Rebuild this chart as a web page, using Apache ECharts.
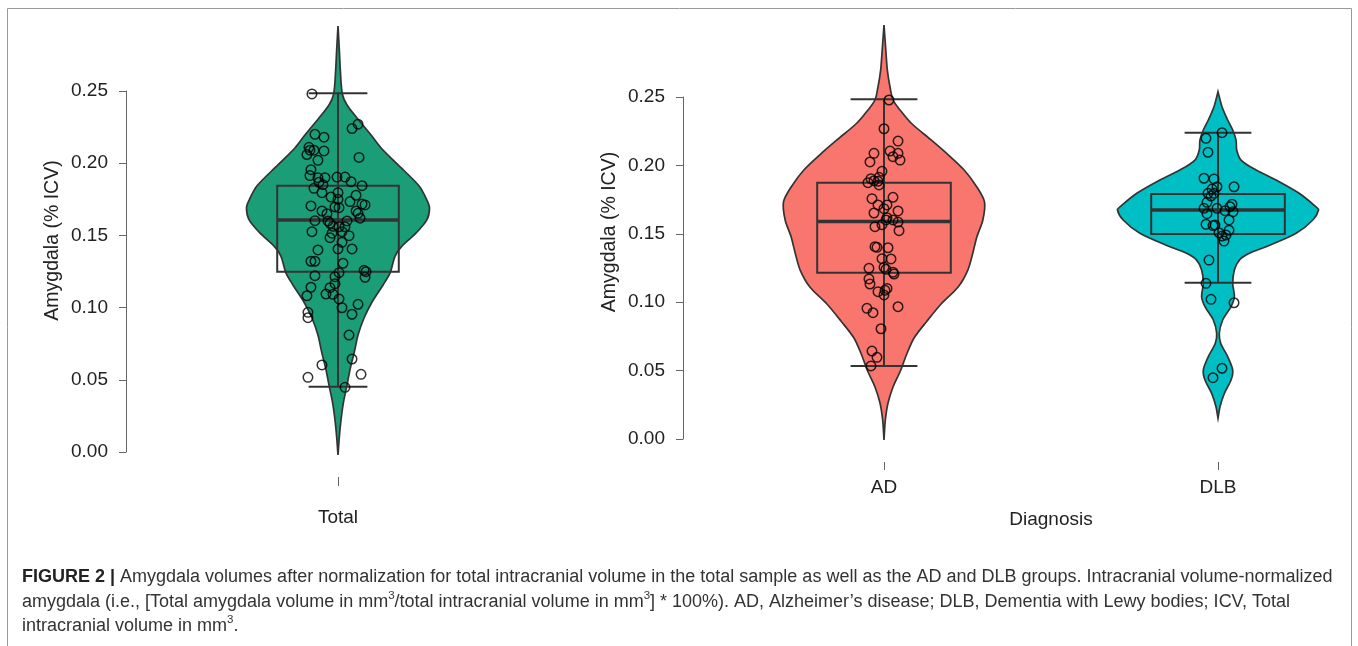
<!DOCTYPE html>
<html>
<head>
<meta charset="UTF-8">
<title>Amygdala volumes</title>
<script src="https://cdn.jsdelivr.net/npm/echarts@6/dist/echarts.min.js"></script>
<style>
  html, body { margin: 0; padding: 0; background: #fff; }
  #main { width: 1358px; height: 646px; }
</style>
</head>
<body>
<div id="main"></div>
<script>
var groups = ['AD', 'DLB'];
var yTicks = [0, 0.05, 0.10, 0.15, 0.20, 0.25];

// jittered points, value = % ICV, jitter = horizontal offset from group centre
var totalValues = [0.248, 0.227, 0.224, 0.220, 0.218, 0.211, 0.209, 0.206, 0.209, 0.2085,
    0.204, 0.202, 0.1955, 0.1914, 0.190, 0.190, 0.1904, 0.1904, 0.1868, 0.1851,
    0.1872, 0.1844, 0.1826, 0.1796, 0.1796, 0.1766, 0.1778, 0.1750, 0.1734, 0.1717,
    0.1711, 0.1704, 0.1697, 0.1692, 0.1669, 0.1653, 0.1669, 0.165, 0.1619, 0.1602,
    0.160, 0.1584, 0.160, 0.156, 0.1563, 0.156, 0.1526, 0.1526, 0.1515, 0.1498,
    0.1484, 0.1406, 0.1399, 0.1406, 0.1452, 0.1321, 0.1321, 0.1307, 0.1258, 0.1249,
    0.1210, 0.1242, 0.1214, 0.1221, 0.1166, 0.1141, 0.1138, 0.1094, 0.1092, 0.1082,
    0.1060, 0.0999, 0.1023, 0.0954, 0.0967, 0.0930, 0.0810, 0.0644, 0.0603, 0.0538,
    0.0517, 0.0448];
var totalJitter = [-0.078, 0.060, 0.042, -0.069, -0.042, -0.087, -0.084, -0.093, -0.072, -0.042,
    0.063, -0.060, -0.081, -0.084, -0.060, -0.039, -0.003, 0.021, -0.057, -0.045,
    0.039, 0.072, -0.072, -0.048, 0.000, -0.021, 0.054, 0.000, 0.036, 0.072,
    0.081, -0.081, -0.009, 0.003, 0.054, 0.060, -0.048, -0.033, 0.066, -0.069,
    -0.030, -0.024, 0.027, 0.003, -0.015, 0.021, -0.078, 0.012, -0.018, 0.033,
    -0.024, 0.000, -0.060, 0.042, 0.012, -0.081, -0.069, 0.015, 0.078, 0.084,
    0.081, 0.003, -0.009, -0.069, -0.009, -0.081, -0.024, -0.036, -0.015, -0.093,
    0.003, 0.012, 0.060, 0.042, -0.090, -0.090, 0.033, 0.042, -0.048, 0.069,
    -0.090, 0.021];

var adValues = [0.2478, 0.2268, 0.2178, 0.2088, 0.2105, 0.2088, 0.2064, 0.2039, 0.2025, 0.1957,
    0.1913, 0.1903, 0.1874, 0.1888, 0.1884, 0.1857, 0.1757, 0.1767, 0.1711, 0.1711,
    0.1684, 0.1652, 0.1667, 0.1618, 0.1601, 0.1601, 0.1586, 0.1567, 0.1552, 0.1523,
    0.1406, 0.1401, 0.1398, 0.1318, 0.1316, 0.1248, 0.1255, 0.1240, 0.1219, 0.1206,
    0.1170, 0.1133, 0.1077, 0.1101, 0.1087, 0.1053, 0.0955, 0.0923, 0.0967, 0.0806,
    0.0643, 0.0597, 0.0534];
var adJitter = [0.015, 0.000, 0.042, -0.030, 0.018, 0.042, 0.027, 0.048, -0.042, -0.006,
    -0.015, -0.039, -0.048, -0.030, -0.018, -0.015, -0.036, 0.027, -0.018, 0.009,
    0.000, -0.030, 0.042, 0.009, 0.006, 0.027, 0.042, -0.006, -0.027, 0.045,
    -0.027, -0.021, 0.012, -0.006, 0.021, -0.045, 0.000, 0.006, 0.027, 0.030,
    -0.045, -0.042, -0.018, 0.009, 0.003, 0.000, -0.051, -0.033, 0.042, -0.009,
    -0.036, -0.021, -0.039];

var dlbValues = [0.2239, 0.2198, 0.2096, 0.1906, 0.1901, 0.1844, 0.1844, 0.1827, 0.1796, 0.1796,
    0.1776, 0.1730, 0.1716, 0.1698, 0.1686, 0.1686, 0.1669, 0.1662, 0.1647, 0.1601,
    0.1569, 0.1564, 0.1560, 0.1526, 0.1508, 0.1491, 0.1484, 0.1447, 0.1308, 0.1138,
    0.1021, 0.0996, 0.0517, 0.0448];
var dlbJitter = [0.012, -0.036, -0.030, -0.042, -0.012, 0.048, -0.003, -0.018, -0.012, -0.030,
    -0.021, -0.033, 0.042, 0.036, -0.042, -0.003, 0.021, 0.045, -0.033, 0.033,
    -0.036, -0.009, -0.015, 0.033, 0.003, 0.024, 0.012, 0.018, -0.027, -0.036,
    -0.021, 0.048, 0.012, -0.015];

// violin outlines: levels (% ICV) and half width at each level
var totalViolinLevels = [0.295, 0.2784, 0.2645, 0.2479, 0.2403, 0.2313, 0.2195, 0.2105, 0.1988, 0.1842,
    0.1745, 0.169, 0.1607, 0.1517, 0.1427, 0.1357, 0.124, 0.1157, 0.1039, 0.0928,
    0.081, 0.0693, 0.0582, 0.0464, 0.0339, 0.0222, 0.0104, -0.0021];
var totalViolinWidth = [0, 0.004, 0.007, 0.013, 0.027, 0.057, 0.099, 0.129, 0.180, 0.243,
    0.266, 0.274, 0.266, 0.234, 0.192, 0.171, 0.156, 0.135, 0.102, 0.078,
    0.060, 0.049, 0.037, 0.027, 0.016, 0.009, 0.004, 0];

var adViolinLevels = [0.3026, 0.2822, 0.2697, 0.2573, 0.2478, 0.2405, 0.231, 0.2186, 0.2091, 0.1966,
    0.1842, 0.1732, 0.1601, 0.1477, 0.136, 0.1235, 0.1111, 0.0987, 0.0863, 0.0738,
    0.0614, 0.0497, 0.038, 0.0263, 0.0139, -0.0007];
var adViolinWidth = [0, 0.006, 0.010, 0.018, 0.027, 0.048, 0.081, 0.141, 0.186, 0.240,
    0.278, 0.301, 0.296, 0.278, 0.266, 0.251, 0.222, 0.171, 0.129, 0.090,
    0.067, 0.049, 0.027, 0.012, 0.004, 0];

var dlbViolinLevels = [0.2539, 0.2429, 0.2332, 0.2259, 0.2186, 0.2113, 0.2039, 0.1966, 0.1893, 0.1796,
    0.1698, 0.1674, 0.1601, 0.1504, 0.1406, 0.1357, 0.1308, 0.1235, 0.1138, 0.104,
    0.0967, 0.087, 0.0773, 0.07, 0.0602, 0.0504, 0.0431, 0.0334, 0.0236, 0.0151];
var dlbViolinWidth = [0, 0.012, 0.029, 0.044, 0.054, 0.056, 0.069, 0.114, 0.174, 0.243,
    0.293, 0.301, 0.284, 0.234, 0.144, 0.094, 0.064, 0.049, 0.044, 0.049,
    0.039, 0.014, 0.004, 0.008, 0.029, 0.044, 0.039, 0.019, 0.006, 0];

// box stats: lower whisker, Q1, median, Q3, upper whisker
var totalBox = [0.0452, 0.1249, 0.1607, 0.1844, 0.2484];
var adBox = [0.0534, 0.1216, 0.1589, 0.1874, 0.2483];
var dlbBox = [0.1143, 0.1499, 0.1674, 0.1791, 0.2239];

var captionLines = [
    '{b|FIGURE 2 |} Amygdala volumes after normalization for total intracranial volume in the total sample as well as the AD and DLB groups. Intracranial volume-normalized',
    'amygdala (i.e., [Total amygdala volume in mm{s|3}/total intracranial volume in mm{s|3}] * 100%). AD, Alzheimer\u2019s disease; DLB, Dementia with Lewy bodies; ICV, Total',
    'intracranial volume in mm{s|3}.'
];

var font = 'Liberation Sans, Arial, sans-serif';
var ink = '#333';

function violinSeries(idx, x, levels, widths, color) {
    return {
        type: 'custom',
        xAxisIndex: idx,
        yAxisIndex: idx,
        z: 1,
        silent: true,
        data: [[x, levels[0]]],
        renderItem: function (params, api) {
            var right = [], left = [];
            for (var i = 0; i < levels.length; i++) {
                right.push(api.coord([x + widths[i], levels[i]]));
                left.unshift(api.coord([x - widths[i], levels[i]]));
            }
            return {
                type: 'polygon',
                shape: { points: right.concat(left), smooth: 0.3 },
                style: { fill: color, stroke: ink, lineWidth: 1.7 }
            };
        }
    };
}

function boxSeries(idx, x, stats, half, cap) {
    return {
        type: 'custom',
        xAxisIndex: idx,
        yAxisIndex: idx,
        z: 2,
        silent: true,
        data: [[x].concat(stats)],
        renderItem: function (params, api) {
            var cx = api.value(0);
            var lo = api.value(1), q1 = api.value(2), med = api.value(3), q3 = api.value(4), hi = api.value(5);
            var p = function (dx, v) { return api.coord([cx + dx, v]); };
            var line = function (a, b, w) {
                return {
                    type: 'line',
                    shape: { x1: a[0], y1: a[1], x2: b[0], y2: b[1] },
                    style: { stroke: ink, lineWidth: w }
                };
            };
            var tl = p(-half, q3), br = p(half, q1);
            return {
                type: 'group',
                children: [
                    line(p(0, lo), p(0, hi), 2),
                    line(p(-cap, lo), p(cap, lo), 2),
                    line(p(-cap, hi), p(cap, hi), 2),
                    {
                        type: 'rect',
                        shape: { x: tl[0], y: tl[1], width: br[0] - tl[0], height: br[1] - tl[1] },
                        style: { fill: 'none', stroke: ink, lineWidth: 2 }
                    },
                    line(p(-half, med), p(half, med), 3.5)
                ]
            };
        }
    };
}

function pointSeries(idx, x, values, jitter) {
    return {
        type: 'scatter',
        xAxisIndex: idx,
        yAxisIndex: idx,
        z: 3,
        silent: true,
        symbol: 'circle',
        symbolSize: 9.5,
        itemStyle: { color: 'rgba(0,0,0,0)', borderColor: '#000', borderWidth: 1.5 },
        data: values.map(function (v, i) { return [x + jitter[i], v]; })
    };
}

function yAxisFor(idx, offset, shift) {
    return {
        type: 'value',
        gridIndex: idx,
        min: 0,
        max: 0.25,
        interval: 0.05,
        offset: offset,
        name: 'Amygdala (% ICV)',
        nameLocation: 'middle',
        nameGap: 63,
        nameTextStyle: { fontSize: 19.5, color: '#222', fontFamily: font, padding: [0, 0, 0, shift] },
        axisLine: { show: true, lineStyle: { color: '#666', width: 1 } },
        axisTick: { show: true, length: 7, lineStyle: { color: '#666', width: 1 } },
        axisLabel: {
            fontSize: 19, color: '#222', fontFamily: font, margin: 18,
            customValues: yTicks,
            formatter: function (v) { return v.toFixed(2); }
        },
        splitLine: { show: false }
    };
}

// the visible x axes sit on their own flat grids below the plots (R puts them apart)
function xAxisFor(idx, max, ticks, tickLen, name, gap, labels) {
    return {
        type: 'value', gridIndex: idx, min: 0.6, max: max,
        axisLine: { show: false },
        axisTick: { show: true, length: tickLen, customValues: ticks, lineStyle: { color: '#666' } },
        axisLabel: labels ? {
            customValues: ticks, margin: 16, fontSize: 19, color: '#222', fontFamily: font,
            formatter: function (v) { return labels[Math.round(v) - 1]; }
        } : { show: false },
        splitLine: { show: false },
        name: name, nameLocation: 'middle', nameGap: gap,
        nameTextStyle: { fontSize: 19, color: '#222', fontFamily: font }
    };
}

function plotXAxis(idx, max) {
    return { type: 'value', gridIndex: idx, min: 0.6, max: max, show: false };
}

function flatYAxis(idx) {
    return { type: 'value', gridIndex: idx, min: 0, max: 1, show: false };
}

var myChart = echarts.init(document.getElementById('main'), null, { renderer: 'canvas' });

var option = {
    animation: false,
    backgroundColor: '#fff',
    grid: [
        { left: 204.4, top: 91, width: 267.2, height: 361, outerBoundsMode: 'none' },
        { left: 750.4, top: 97, width: 601.2, height: 342, outerBoundsMode: 'none' },
        { left: 204.4, top: 476, width: 267.2, height: 1, outerBoundsMode: 'none' },
        { left: 750.4, top: 461, width: 601.2, height: 1, outerBoundsMode: 'none' }
    ],
    xAxis: [
        plotXAxis(0, 1.4),
        plotXAxis(1, 2.4),
        xAxisFor(2, 1.4, [1], 9, 'Total', 31, null),
        xAxisFor(3, 2.4, [1, 2], 8, 'Diagnosis', 48, groups)
    ],
    yAxis: [yAxisFor(0, 78.4, 62), yAxisFor(1, 67.4, 72), flatYAxis(2), flatYAxis(3)],
    series: [
        violinSeries(0, 1, totalViolinLevels, totalViolinWidth, '#1b9e77'),
        boxSeries(0, 1, totalBox, 0.182, 0.088),
        pointSeries(0, 1, totalValues, totalJitter),
        violinSeries(1, 1, adViolinLevels, adViolinWidth, '#f8766d'),
        boxSeries(1, 1, adBox, 0.2, 0.1),
        pointSeries(1, 1, adValues, adJitter),
        violinSeries(1, 2, dlbViolinLevels, dlbViolinWidth, '#00bfc4'),
        boxSeries(1, 2, dlbBox, 0.2, 0.1),
        pointSeries(1, 2, dlbValues, dlbJitter)
    ],
    graphic: [
        {
            type: 'rect', silent: true, z: -1,
            shape: { x: 7.5, y: 8.5, width: 1344, height: 700 },
            style: { fill: 'none', stroke: '#9a9a9a', lineWidth: 1 }
        },
        {
            type: 'text', left: 22, top: 565, silent: true,
            style: {
                text: captionLines.join('\n'),
                fontSize: 18, fontFamily: font, fill: '#333', lineHeight: 24.5,
                rich: {
                    b: { fontSize: 18, fontFamily: font, fontWeight: 'bold', fill: '#222', lineHeight: 24.5 },
                    s: { fontSize: 11.5, fontFamily: font, fill: '#333', verticalAlign: 'top', lineHeight: 24.5 }
                }
            }
        }
    ]
};

myChart.setOption(option);
</script>
</body>
</html>
